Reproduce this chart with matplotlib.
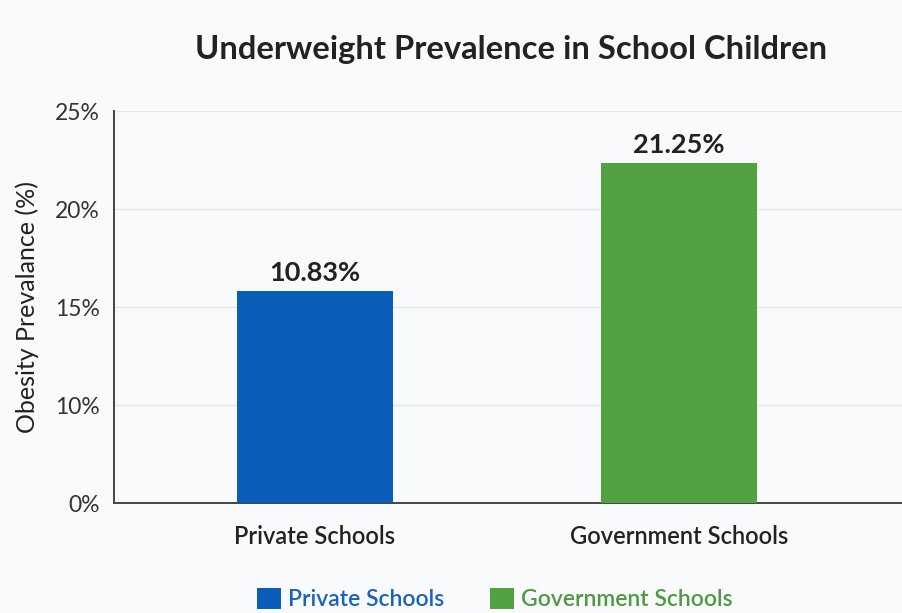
import matplotlib
matplotlib.use("Agg")
import matplotlib.pyplot as plt
from matplotlib.patches import Patch

# ---- data ----
categories = ["Private Schools", "Government Schools"]
bar_heights = [10.82, 17.35]
value_labels = ["10.83%", "21.25%"]
tick_positions = [0, 5, 10, 15, 20]
tick_labels = ["0%", "10%", "15%", "20%", "25%"]
colors = ["#0A5DB9", "#52A242"]

plt.rcParams['font.family'] = ['Lato', 'DejaVu Sans']

fig = plt.figure(figsize=(9.03, 6.13), dpi=100)
fig.patch.set_facecolor("#F9FAFC")
ax = fig.add_axes([0.1262, 0.1794, 0.8738, 0.6395])
ax.set_facecolor("#F9FAFC")

x = list(range(len(categories)))
ax.bar(x, bar_heights, width=0.43, color=colors, zorder=3)
for xi, h, lab in zip(x, bar_heights, value_labels):
    ax.text(xi, h + 0.3, lab, ha="center", va="bottom", fontsize=19.5,
            fontweight="bold", color="#222222", zorder=4)

ax.set_xlim(-0.552, 1.615)
ax.set_ylim(0, 20)
ax.set_yticks(tick_positions)
ax.set_yticklabels(tick_labels, fontsize=16.5, color="#333333")
ax.set_xticks(x)
ax.set_xticklabels(categories, fontsize=17, fontweight="semibold", color="#222222")
ax.tick_params(axis="x", length=0, pad=16)
ax.tick_params(axis="y", length=0, pad=10)
ax.grid(axis="y", color="#E6E6E6", linewidth=1, zorder=0)

for s in ["top", "right"]:
    ax.spines[s].set_visible(False)
for s in ["left", "bottom"]:
    ax.spines[s].set_color("#444444")
    ax.spines[s].set_linewidth(1.4)

ax.set_ylabel("Obesity Prevalance (%)", fontsize=18, color="#222222", labelpad=12)

fig.text(511 / 903, 1 - 50 / 613, "Underweight Prevalence in School Children",
         ha="center", va="center", fontsize=23.6, fontweight="bold", color="#222222")

handles = [Patch(facecolor=c, edgecolor="none") for c in colors]
leg = fig.legend(handles, categories, loc="center", bbox_to_anchor=(495 / 903, 1 - 599 / 613),
                 ncol=2, frameon=False, handlelength=1.05, handleheight=1.05,
                 handletextpad=0.3, columnspacing=2.0, prop={"size": 16.5, "weight": "semibold"})
for t, c in zip(leg.get_texts(), ["#1A62BF", "#4E9A40"]):
    t.set_color(c)

fig.savefig("out.png", dpi=100, facecolor=fig.get_facecolor())
